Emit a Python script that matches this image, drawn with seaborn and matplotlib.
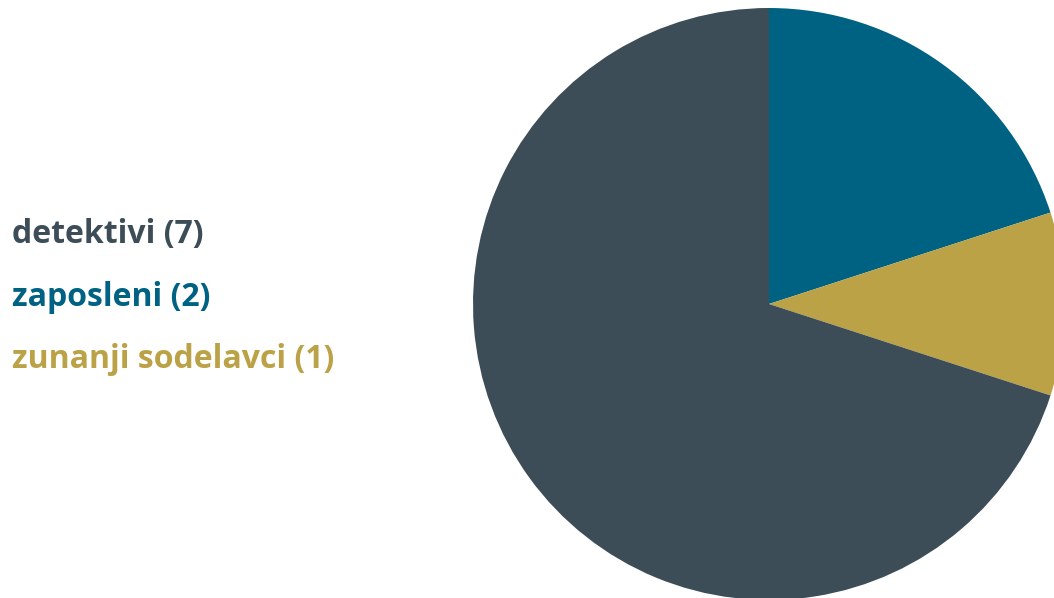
import matplotlib
matplotlib.use("Agg")
import matplotlib.pyplot as plt
import seaborn as sns

labels = ["zaposleni", "zunanji sodelavci", "detektivi"]
counts = [2, 1, 7]
colors = ["#006283", "#bca246", "#3c4d57"]

# legend order on the left
legend_order = ["detektivi", "zaposleni", "zunanji sodelavci"]

sns.set_theme(style="white")
plt.rcParams["font.family"] = ["Open Sans", "DejaVu Sans"]

fig = plt.figure(figsize=(10.54, 5.98), dpi=100)
W, H = 1054, 598
cx, cy, r = 769, 304, 296
ax = fig.add_axes([(cx - r) / W, (H - cy - r) / H, 2 * r / W, 2 * r / H])
ax.pie(counts, colors=colors, startangle=90, counterclock=False,
       wedgeprops=dict(linewidth=0))
ax.set_xlim(-1, 1)
ax.set_ylim(-1, 1)
ax.set_aspect("equal")
ax.axis("off")

col = dict(zip(labels, colors))
val = dict(zip(labels, counts))
ys = [234, 297, 359]
for name, y in zip(legend_order, ys):
    fig.text(12 / W, 1 - y / H, f"{name} ({val[name]})", color=col[name],
             fontsize=23, fontweight="bold", va="center", ha="left")

fig.savefig("out.png", dpi=100)
